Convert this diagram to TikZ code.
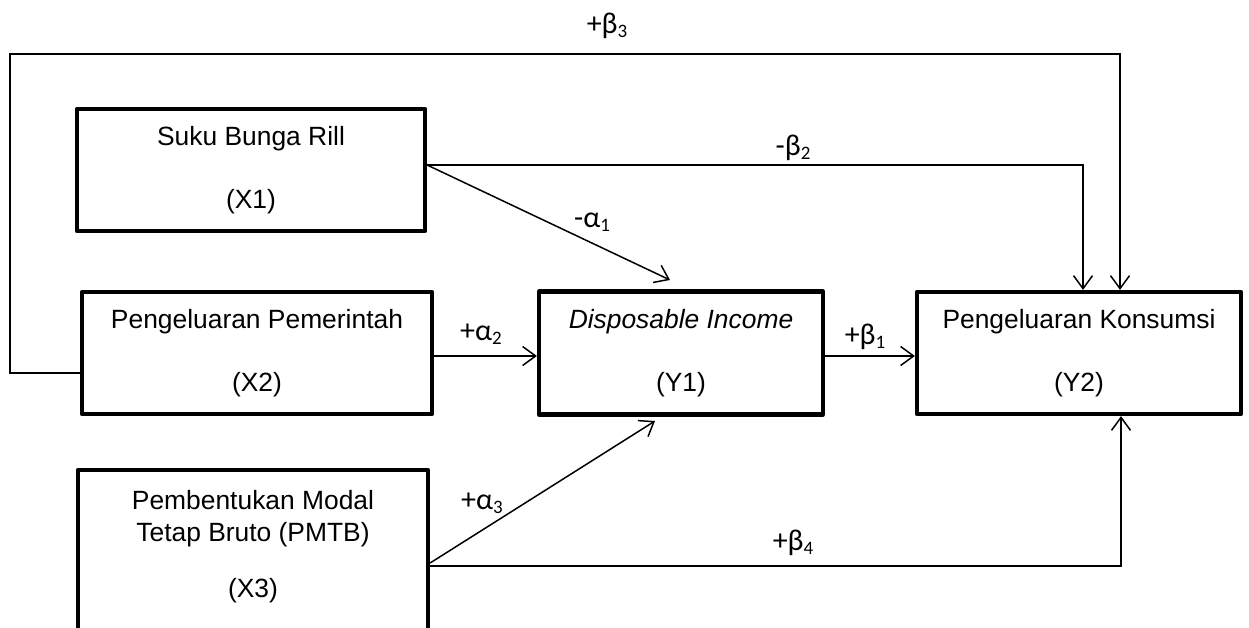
\documentclass[tikz,border=0pt]{standalone}
\usepackage{fontspec}
\setmainfont{Liberation Sans}
\newfontfamily\lblfont{Carlito}
\usetikzlibrary{arrows.meta}
\newcommand\lsub[1]{\raisebox{-4pt}{\fontsize{19}{19}\selectfont #1}}
\begin{document}
\begin{tikzpicture}[x=1pt,y=-1pt,
  box/.style={draw, line width=4.2pt, line join=round, rectangle, inner sep=0pt, align=center, font=\fontsize{26.4}{32}\selectfont},
  btext/.style={inner sep=0pt, align=center, font=\fontsize{26.4}{32}\selectfont},
  conn/.style={line width=1.5pt, line join=miter},
  arr/.style={conn, -{Straight Barb[length=13pt,width=19pt]}},
  lbl/.style={font=\lblfont\fontsize{30}{34}\selectfont, inner sep=0pt}
]
\useasboundingbox (0,0) rectangle (1249,628);
\clip (0,0) rectangle (1249,628);
\fill[white] (0,0) rectangle (1249,628);

% boxes
\node[box, minimum width=348pt, minimum height=122pt] (X1) at (251,170) {Suku Bunga Rill\\[31pt](X1)};
\node[box, minimum width=350pt, minimum height=122pt] (X2) at (257,353) {Pengeluaran Pemerintah\\[31pt](X2)};
\node[box, minimum width=284pt, minimum height=123pt] (Y1) at (681,353) {\textit{Disposable Income}\\[31pt](Y1)};
\node[box, minimum width=324pt, minimum height=122pt] (Y2) at (1079,353) {Pengeluaran Konsumsi\\[31pt](Y2)};
\node[box, minimum width=350pt, minimum height=186pt] (X3) at (253,563) {};
\node[btext, anchor=north] (X3t) at (253,490) {Pembentukan Modal\\Tetap Bruto (PMTB)\\[24pt](X3)};

% helper coordinates
\coordinate (topL) at (10,54);
\coordinate (topR) at (1120,54);
\coordinate (b2R) at (1083,165);
\coordinate (a1E) at (670,280);
\coordinate (mid) at (0,356);
\coordinate (a3E) at (655,421);
\coordinate (b4R) at (1121,566);

% connectors
\draw[arr] ([yshift=-20pt]X2.west) -| (topL) -- (topR) -- (topR |- Y2.north);
\draw[arr] ([yshift=5pt]X1.east) -- (b2R) -- (b2R |- Y2.north);
\draw[arr] ([yshift=5pt]X1.east) -- (a1E);
\draw[arr] (X2.east |- mid) -- (Y1.west |- mid);
\draw[arr] (Y1.east |- mid) -- (Y2.west |- mid);
\draw[arr] (X3.east) -- (a3E);
\draw[arr] ([yshift=-3pt]X3.east) -- (b4R) -- (b4R |- Y2.south);

% labels
\node[lbl] (Lb3) at (607,26) {+β\lsub{3}};
\node[lbl] (Lb2) at (793,148) {-β\lsub{2}};
\node[lbl] (La1) at (592,222) {-α\lsub{1}};
\node[lbl] (La2) at (481,334) {+α\lsub{2}};
\node[lbl] (Lb1) at (865,337) {+β\lsub{1}};
\node[lbl] (La3) at (482,503) {+α\lsub{3}};
\node[lbl] (Lb4) at (793,543) {+β\lsub{4}};
\end{tikzpicture}
\end{document}
